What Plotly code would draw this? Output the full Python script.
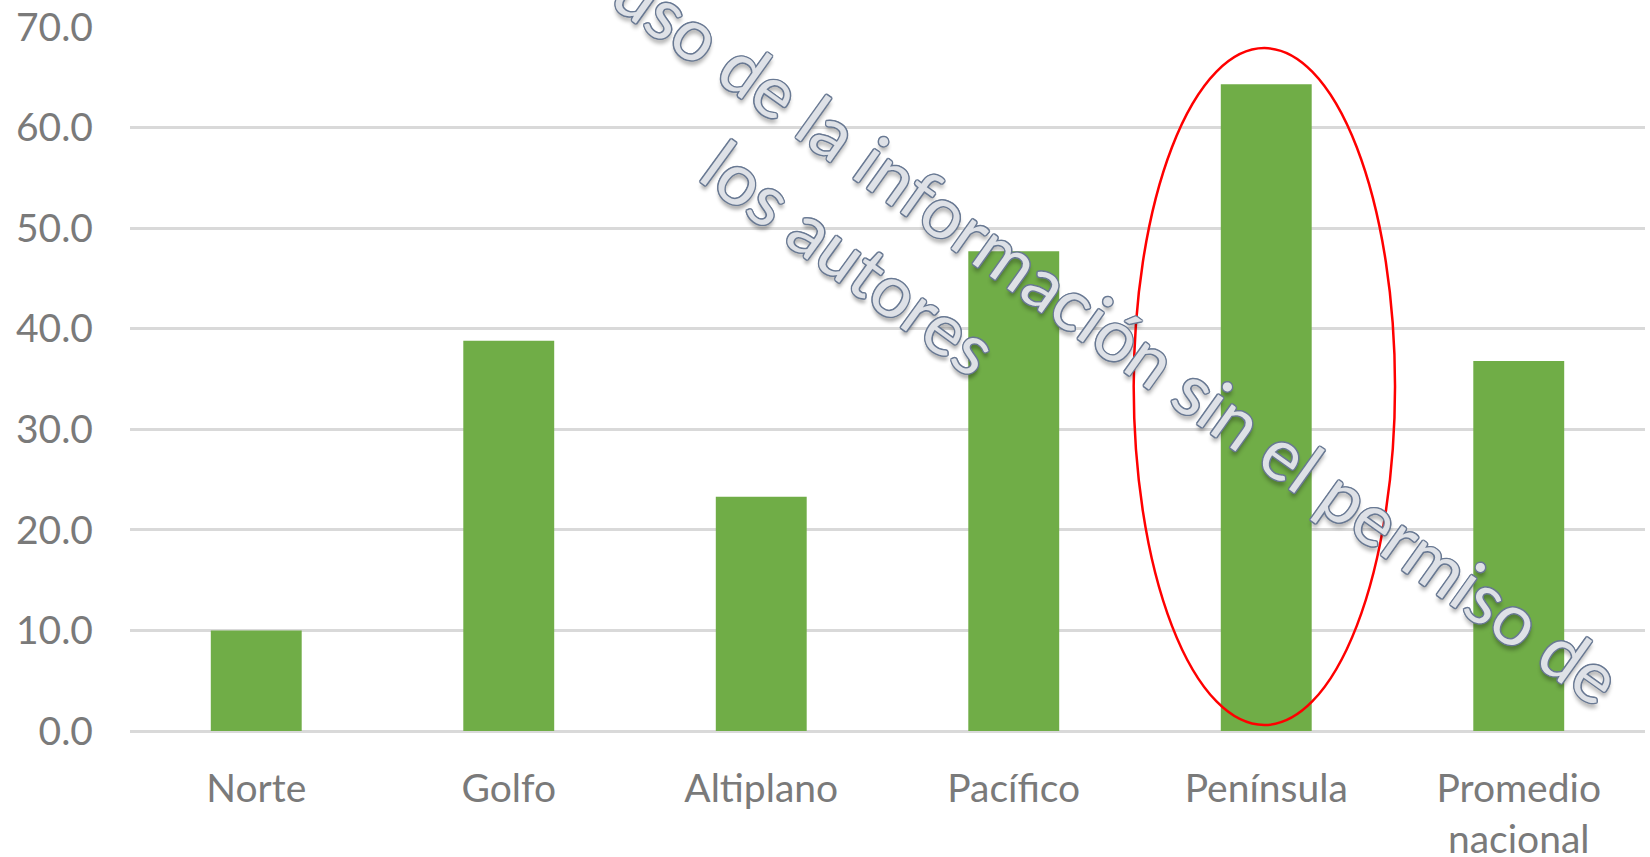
import plotly.graph_objects as go

categories = ["Norte", "Golfo", "Altiplano", "Pacífico", "Península", "Promedio<br>nacional"]
values = [10.0, 38.8, 23.3, 47.7, 64.3, 36.8]
y_ticks = [0, 10, 20, 30, 40, 50, 60, 70]
watermark_line1 = "uso de la información sin el permiso de"
watermark_line2 = "los autores"

bar_color = "#70AD47"
label_color = "#7a7a7a"
grid_color = "#d9d9d9"
font_family = "Lato, 'Open Sans', sans-serif"

W, H = 1650, 857
PL, PR, PT, PB = 130, 5, 27, 126
PW, PH = W - PL - PR, H - PT - PB


def px_to_paper(px, py):
    """Convert window pixel positions to paper fractions."""
    return (px - PL) / PW, (H - PB - py) / PH


fig = go.Figure()
fig.add_trace(go.Bar(
    x=categories,
    y=values,
    marker=dict(color=bar_color, line=dict(width=0)),
    showlegend=False,
))

outline = "#687892"
shadow = (f"-1px -1px 0 {outline}, 1px -1px 0 {outline}, "
          f"-1px 1px 0 {outline}, 1px 1px 0 {outline}, "
          f"0px 1.5px 0 {outline}, 1.5px 0px 0 {outline}, 0px -1.5px 0 {outline}, -1.5px 0px 0 {outline}, "
          "3px 4px 4px rgba(0,0,0,0.35)")
wm_font = dict(family=font_family, size=71.5, color="rgba(232,234,238,0.92)", shadow=shadow)

x1, y1 = px_to_paper(1118, 333)
x2, y2 = px_to_paper(850, 256)
fig.add_annotation(text=watermark_line1, xref="paper", yref="paper", x=x1, y=y1,
                   xanchor="center", yanchor="middle", textangle=35.5,
                   showarrow=False, font=wm_font)
fig.add_annotation(text=watermark_line2, xref="paper", yref="paper", x=x2, y=y2,
                   xanchor="center", yanchor="middle", textangle=36,
                   showarrow=False, font=wm_font)

# Red ellipse highlighting Península
fig.add_shape(type="circle", xref="x", yref="y",
              x0=3.475, x1=4.51, y0=0.6, y1=67.9,
              line=dict(color="#ff0000", width=2.5), fillcolor="rgba(0,0,0,0)", layer="above")

fig.update_layout(
    width=W, height=H,
    margin=dict(l=PL, r=PR, t=PT, b=PB, autoexpand=False),
    paper_bgcolor="white", plot_bgcolor="white",
    bargap=0.64,
    font=dict(family=font_family, color=label_color, size=39),
)
fig.update_xaxes(
    showgrid=False, showline=False, zeroline=False, ticks="",
    tickfont=dict(size=39, color=label_color, family=font_family),
    ticklabelstandoff=31, automargin=False,
)
fig.update_yaxes(
    range=[0, 70], tickvals=y_ticks, tickformat=".1f",
    showgrid=True, gridcolor=grid_color, gridwidth=2.5,
    zeroline=True, zerolinecolor=grid_color, zerolinewidth=2.5,
    showline=False, ticks="", ticklabeloverflow="allow",
    tickfont=dict(size=39, color=label_color, family=font_family),
    ticklabelstandoff=36, automargin=False,
)

fig.write_html(
    "out.html",
    config={"displayModeBar": False},
    post_script="document.body.style.margin='0';document.body.style.overflow='hidden';",
)
